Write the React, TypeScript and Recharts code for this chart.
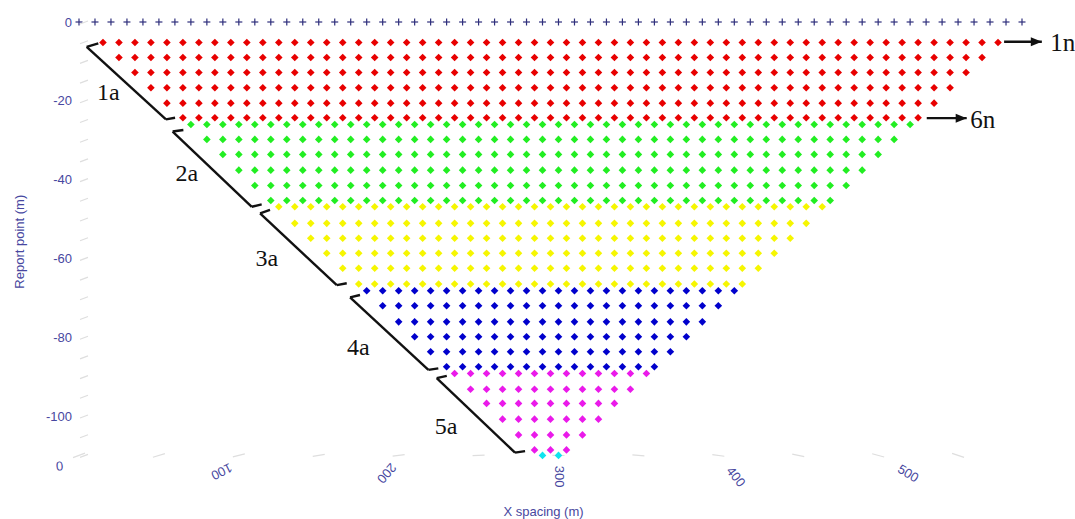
import { ScatterChart, Scatter, XAxis, YAxis, ReferenceLine, ReferenceDot } from "recharts"

// electrode positions along the line (m)
const electrodes = [
  0, 10, 20, 30, 40, 50, 60, 70, 80, 90, 100, 110, 120, 130, 140, 150, 160, 170, 180, 190,
  200, 210, 220, 230, 240, 250, 260, 270, 280, 290, 300, 310, 320, 330, 340, 350, 360, 370, 380, 390,
  400, 410, 420, 430, 440, 450, 460, 470, 480, 490, 500, 510, 520, 530, 540, 550, 560, 570, 580, 590,
]
const stationStep = 10

// each row: [report depth, first x, last x]
const redRows = [[-5.2, 15, 575], [-9.0, 25, 565], [-12.8, 35, 555], [-16.7, 45, 545], [-20.6, 55, 535], [-24.3, 65, 525]]
const greenRows = [[-26.0, 70, 520], [-29.8, 80, 510], [-33.6, 90, 500], [-37.6, 100, 490], [-41.5, 110, 480], [-45.3, 120, 470]]
const yellowRows = [[-46.9, 125, 465], [-51.1, 135, 455], [-54.9, 145, 445], [-58.7, 155, 435], [-62.5, 165, 425], [-66.5, 175, 415]]
const blueRows = [[-68.2, 180, 410], [-72.0, 190, 400], [-76.1, 200, 390], [-79.9, 210, 380], [-83.7, 220, 370], [-87.5, 230, 360]]
const magentaRows = [[-89.2, 235, 355], [-93.2, 245, 345], [-96.8, 255, 335], [-100.8, 265, 325], [-104.8, 275, 315], [-108.6, 285, 305]]
const cyanRows = [[-110.0, 290, 300]]

const yTicks = [0, -5, -10, -15, -20, -25, -30, -35, -40, -45, -50, -55, -60, -65, -70, -75, -80, -85, -90, -95, -100, -105, -110]
const gridTicks = [0, 50, 100, 150, 200, 250, 300, 350, 400, 450, 500, 550]
// x labels sit on the front edge of the perspective floor, which is wider than the data grid
const floorTicks = [0, 100, 200, 300, 400, 500]
const floorAngles = [175, 153, 131, 90, 52, 31]
const floorDx = [6, -2, -7, -4, 2, 4]
const floorDy = [10.6, 16.3, 17.9, 21.3, 21.3, 17.9]

// bracket annotations in data units
const brackets = [
  { text: "1a", top: [4.8, -6.3], topHook: [12.1, -5.4], bottom: [54.4, -24.7], bottomHook: [60.1, -24.3], at: [18.3, -17.7] },
  { text: "2a", top: [58.6, -27.8], topHook: [65.3, -27.4], bottom: [108.1, -46.9], bottomHook: [114.3, -46.3], at: [67.4, -38.4] },
  { text: "3a", top: [113.3, -48.6], topHook: [119.5, -47.7], bottom: [161.3, -66.8], bottomHook: [167.5, -66.3], at: [117.5, -60.0] },
  { text: "4a", top: [169.6, -69.9], topHook: [175.8, -69.3], bottom: [218.6, -88.3], bottomHook: [224.8, -87.9], at: [174.8, -82.4] },
  { text: "5a", top: [223.8, -90.4], topHook: [230.1, -89.8], bottom: [272.8, -109.3], bottomHook: [279.1, -108.9], at: [229.7, -102.5] },
]
const arrows = [
  { text: "1n", from: [578.8, -5.0], to: [602.4, -5.0], at: [615.5, -5.3] },
  { text: "6n", from: [530.4, -24.4], to: [555.4, -24.4], at: [565.5, -24.8] },
]

const AXIS_BLUE = "#4747a0"
const SANS = "'Liberation Sans', Arial, sans-serif"
const SERIF = "'Liberation Serif', 'Times New Roman', serif"

function expandRows(rows: number[][]) {
  const pts: { x: number; y: number }[] = []
  rows.forEach(([depth, first, last]) => {
    for (let x = first; x <= last; x += stationStep) pts.push({ x, y: depth })
  })
  return pts
}

const electrodeData = electrodes.map((x) => ({ x, y: 0 }))
const floorAnchors = floorTicks.map((x) => ({ x, y: -110 }))

const diamond = (color: string) => (p: any) => {
  const r = 3.8
  return (
    <polygon
      points={`${p.cx},${p.cy - r} ${p.cx + r},${p.cy} ${p.cx},${p.cy + r} ${p.cx - r},${p.cy}`}
      fill={color}
    />
  )
}

const plus = (p: any) => (
  <g stroke="#2f2f7c" strokeWidth={1.2}>
    <line x1={p.cx - 3.5} y1={p.cy} x2={p.cx + 3.5} y2={p.cy} />
    <line x1={p.cx} y1={p.cy - 3.5} x2={p.cx} y2={p.cy + 3.5} />
  </g>
)

function YTick({ x, y, payload }: any) {
  const v = payload.value
  return (
    <g>
      <line x1={x + 8} y1={y + 2} x2={x + 16} y2={y - 1} stroke="#dedede" strokeWidth={1.2} />
      {v % 20 === 0 && v > -110 && (
        <text x={x} y={y} dy={4.5} textAnchor="end" fill={AXIS_BLUE} fontSize={13} fontFamily={SANS}>
          {v}
        </text>
      )}
    </g>
  )
}

// faint floor dash, tilted with the perspective of the floor
const floorDash = (p: any) => {
  const s = ((540 - p.cx) / 540) * 2.6
  return <line x1={p.cx - 6} y1={p.cy + s} x2={p.cx + 6} y2={p.cy - s} stroke="#dedede" strokeWidth={1.2} />
}

function FloorTick({ x, y, payload }: any) {
  const i = floorTicks.indexOf(payload.value)
  if (i < 0) return null
  const cx = x + floorDx[i]
  const cy = y + floorDy[i]
  return (
    <text
      x={cx}
      y={cy}
      textAnchor="middle"
      dominantBaseline="central"
      transform={`rotate(${floorAngles[i]} ${cx} ${cy})`}
      fill={AXIS_BLUE}
      fontSize={13}
      fontFamily={SANS}
    >
      {payload.value}
    </text>
  )
}

const textShape = (label: string, size: number) => (p: any) => (
  <text x={p.cx} y={p.cy} textAnchor="middle" dominantBaseline="central" fontSize={size} fontFamily={SERIF} fill="#111">
    {label}
  </text>
)

const arrowHead = (p: any) => (
  <polygon points={`${p.cx},${p.cy} ${p.cx - 11},${p.cy - 4.5} ${p.cx - 11},${p.cy + 4.5}`} fill="#111" />
)

export default function App() {
  return (
    <div style={{ position: "absolute", left: 0, top: 0, width: 1075, height: 519, background: "#fff" }}>
      <ScatterChart width={1075} height={519} margin={{ top: 22, right: 53, bottom: 0, left: 0 }}>
        <XAxis xAxisId="grid" dataKey="x" type="number" domain={[0, 590]} hide />
        <XAxis
          xAxisId="floor"
          dataKey="x"
          type="number"
          domain={[15, 569.2]}
          allowDataOverflow
          ticks={floorTicks}
          interval={0}
          height={63.6}
          tickSize={0}
          tickMargin={0}
          axisLine={false}
          tickLine={false}
          tick={<FloorTick />}
          label={{ value: "X spacing (m)", position: "insideBottom", offset: 3, dx: -7, fill: AXIS_BLUE, fontSize: 13, fontFamily: SANS }}
        />
        <YAxis
          dataKey="y"
          type="number"
          domain={[-110, 0]}
          ticks={yTicks}
          interval={0}
          width={79}
          tickSize={6}
          tickMargin={1}
          axisLine={false}
          tickLine={false}
          tick={<YTick />}
          label={({ viewBox }: any) => {
            const cx = viewBox.x + 20
            const cy = viewBox.y + viewBox.height / 2 + 3
            return (
              <text x={cx} y={cy} transform={`rotate(-90 ${cx} ${cy})`} textAnchor="middle" dominantBaseline="central" fill={AXIS_BLUE} fontSize={13} fontFamily={SANS}>
                Report point (m)
              </text>
            )
          }}
        />

        {gridTicks.map((t) => (
          <ReferenceDot key={"g" + t} xAxisId="grid" ifOverflow="visible" x={t} y={-110} r={0} shape={floorDash} />
        ))}

        {/* invisible anchors so the floor axis has values of its own */}
        <Scatter xAxisId="floor" data={floorAnchors} shape={() => <g />} isAnimationActive={false} />

        <Scatter xAxisId="grid" data={electrodeData} shape={plus} isAnimationActive={false} />
        <Scatter xAxisId="grid" data={expandRows(redRows)} shape={diamond("#e80000")} isAnimationActive={false} />
        <Scatter xAxisId="grid" data={expandRows(greenRows)} shape={diamond("#22ee22")} isAnimationActive={false} />
        <Scatter xAxisId="grid" data={expandRows(yellowRows)} shape={diamond("#f6f600")} isAnimationActive={false} />
        <Scatter xAxisId="grid" data={expandRows(blueRows)} shape={diamond("#0000cc")} isAnimationActive={false} />
        <Scatter xAxisId="grid" data={expandRows(magentaRows)} shape={diamond("#ea1aea")} isAnimationActive={false} />
        <Scatter xAxisId="grid" data={expandRows(cyanRows)} shape={diamond("#10e4ee")} isAnimationActive={false} />

        {brackets.map((b) => [
          <ReferenceLine key={b.text + "h1"} xAxisId="grid" ifOverflow="visible" stroke="#111" strokeWidth={2.4}
            segment={[{ x: b.topHook[0], y: b.topHook[1] }, { x: b.top[0], y: b.top[1] }]} />,
          <ReferenceLine key={b.text + "l"} xAxisId="grid" ifOverflow="visible" stroke="#111" strokeWidth={2.4}
            segment={[{ x: b.top[0], y: b.top[1] }, { x: b.bottom[0], y: b.bottom[1] }]} />,
          <ReferenceLine key={b.text + "h2"} xAxisId="grid" ifOverflow="visible" stroke="#111" strokeWidth={2.4}
            segment={[{ x: b.bottom[0], y: b.bottom[1] }, { x: b.bottomHook[0], y: b.bottomHook[1] }]} />,
          <ReferenceDot key={b.text + "t"} xAxisId="grid" ifOverflow="visible" x={b.at[0]} y={b.at[1]} r={0}
            shape={textShape(b.text, 24)} />,
        ])}

        {arrows.map((a) => [
          <ReferenceLine key={a.text + "l"} xAxisId="grid" ifOverflow="visible" stroke="#111" strokeWidth={2.4}
            segment={[{ x: a.from[0], y: a.from[1] }, { x: a.to[0], y: a.to[1] }]} />,
          <ReferenceDot key={a.text + "a"} xAxisId="grid" ifOverflow="visible" x={a.to[0]} y={a.to[1]} r={0}
            shape={arrowHead} />,
          <ReferenceDot key={a.text + "t"} xAxisId="grid" ifOverflow="visible" x={a.at[0]} y={a.at[1]} r={0}
            shape={textShape(a.text, 25)} />,
        ])}
      </ScatterChart>
    </div>
  )
}
